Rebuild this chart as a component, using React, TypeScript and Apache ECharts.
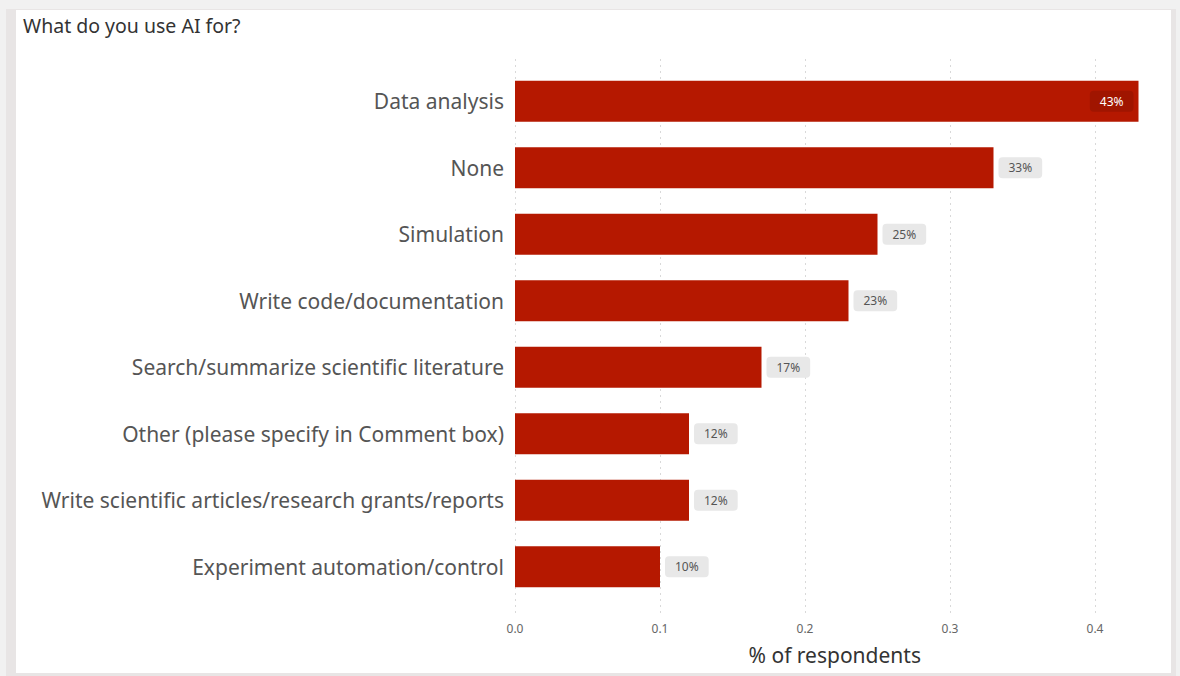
import React, { useEffect, useRef } from "react";
import * as echarts from "echarts";

const categories = [
  "Data analysis",
  "None",
  "Simulation",
  "Write code/documentation",
  "Search/summarize scientific literature",
  "Other (please specify in Comment box)",
  "Write scientific articles/research grants/reports",
  "Experiment automation/control",
];
const shares = [0.43, 0.33, 0.25, 0.23, 0.17, 0.12, 0.12, 0.1];
const tickValues = [0, 0.1, 0.2, 0.3, 0.4];
const titleText = "What do you use AI for?";
const axisTitle = "% of respondents";

const FONT = "'Noto Sans', 'Open Sans', sans-serif";
const BAR = "#b51800";

export default function App() {
  const ref = useRef<HTMLDivElement>(null);
  useEffect(() => {
    if (!ref.current) return;
    const chart = echarts.init(ref.current, undefined, { renderer: "svg" });
    const plotLeft = 515;
    const pxPerUnit = 1450;
    const barMax = shares[0];
    chart.setOption({
      animation: false,
      textStyle: { fontFamily: FONT },
      title: {
        text: titleText,
        left: 18,
        top: 10,
        textStyle: { fontFamily: FONT, fontSize: 19.5, fontWeight: "normal", color: "#333" },
      },
      grid: [
        { left: plotLeft, width: barMax * pxPerUnit, top: 68, height: 532 },
        {
          left: plotLeft,
          width: tickValues[tickValues.length - 1] * pxPerUnit,
          top: 59,
          height: 556,
        },
      ],
      xAxis: [
        {
          type: "value",
          gridIndex: 0,
          min: 0,
          max: barMax,
          axisLine: { show: false },
          axisTick: { show: false },
          axisLabel: { show: false },
          splitLine: { show: false },
          name: axisTitle,
          nameLocation: "middle",
          nameGap: 44,
          nameTextStyle: { fontFamily: FONT, fontSize: 21, color: "#333", padding: [0, 0, 0, 16] },
        },
        {
          type: "value",
          gridIndex: 1,
          min: 0,
          max: tickValues[tickValues.length - 1],
          interval: 0.1,
          axisLine: { show: false },
          axisTick: { show: false },
          axisLabel: {
            color: "#666",
            fontSize: 12,
            margin: 7,
            formatter: (v: number) => v.toFixed(1),
          },
          splitLine: { show: true, lineStyle: { color: "#d9d9d9", type: [2, 4], width: 1 } },
        },
      ],
      yAxis: [
        {
          type: "category",
          gridIndex: 0,
          data: categories,
          inverse: true,
          axisLine: { show: false },
          axisTick: { show: false },
          axisLabel: { color: "#555", fontSize: 21, margin: 11, fontFamily: FONT },
        },
        {
          type: "value",
          gridIndex: 1,
          show: false,
          min: 0,
          max: 1,
        },
      ],
      series: [
        {
          type: "bar",
          xAxisIndex: 0,
          yAxisIndex: 0,
          barWidth: 41,
          itemStyle: { color: BAR },
          label: {
            show: true,
            position: "right",
            distance: 5,
            formatter: (p: any) => Math.round(p.value * 100) + "%",
            fontSize: 12,
            color: "#555",
            backgroundColor: "#e8e8e8",
            borderRadius: 4,
            padding: [5, 10, 4, 10],
          },
          data: shares.map((v, i) =>
            i === 0
              ? {
                  value: v,
                  label: {
                    position: "insideRight",
                    distance: 5,
                    color: "#fff",
                    backgroundColor: "#a01500",
                  },
                }
              : v
          ),
        },
      ],
    });
    return () => chart.dispose();
  }, []);

  return (
    <div
      style={{
        position: "fixed",
        left: 0,
        top: 0,
        width: 1180,
        height: 676,
        background: "#f1f1f1",
        overflow: "hidden",
      }}
    >
      <div
        style={{
          position: "absolute",
          left: 6,
          top: 9,
          width: 1170,
          height: 667,
          background: "#e8e5e5",
        }}
      />
      <div
        style={{
          position: "absolute",
          left: 16,
          top: 10,
          width: 1155,
          height: 663,
          background: "#ffffff",
        }}
      />
      <div ref={ref} style={{ position: "absolute", left: 0, top: 0, width: 1180, height: 676 }} />
    </div>
  );
}
